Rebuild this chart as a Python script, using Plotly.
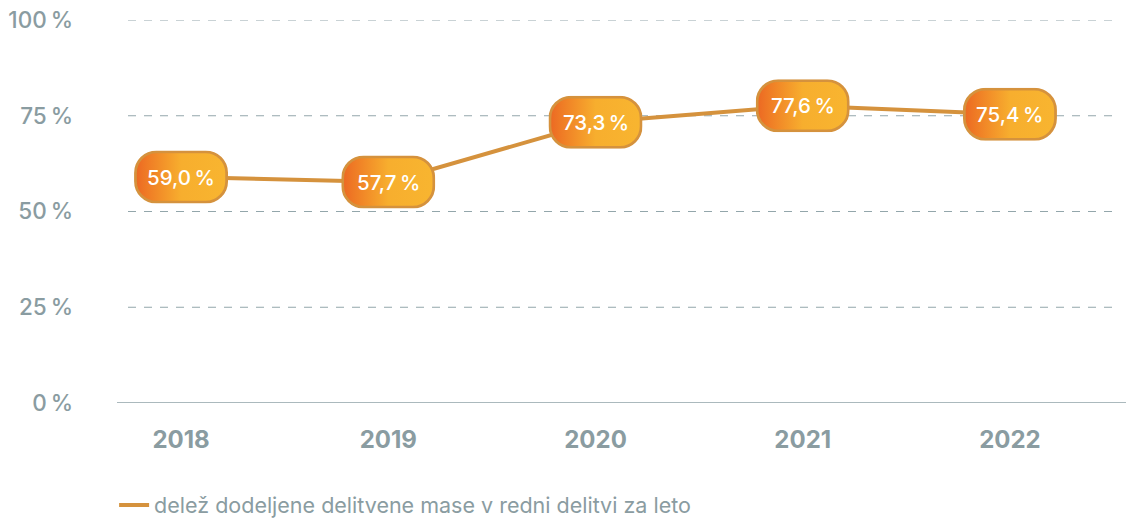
import base64
import plotly.graph_objects as go

years = ["2018", "2019", "2020", "2021", "2022"]
share = [59.0, 57.7, 73.3, 77.6, 75.4]
labels = ["59,0\u2009%", "57,7\u2009%", "73,3\u2009%", "77,6\u2009%", "75,4\u2009%"]
y_ticks = [0, 25, 50, 75, 100]
y_ticktext = ["0\u2009%", "25\u2009%", "50\u2009%", "75\u2009%", "100\u2009%"]
legend_name = "delež dodeljene delitvene mase v redni delitvi za leto"

W, H = 1134, 518
OFF = 8  # page body margin of the rendered html
L, R, T, B = 128 - OFF, 14 + OFF, 20 - OFF, 115 + OFF
x_range = [-0.256, 4.531]
y_range = [0, 100]
plot_w = W - L - R
plot_h = H - T - B
px_per_x = plot_w / (x_range[1] - x_range[0])
px_per_y = plot_h / (y_range[1] - y_range[0])

LINE = "#D5923D"
GRAY = "#8A9CA1"
FONT = "Inter"

box_w, box_h = 94, 53
svg = f'''<svg xmlns="http://www.w3.org/2000/svg" width="{box_w}" height="{box_h}" viewBox="0 0 {box_w} {box_h}">
<defs><linearGradient id="g" x1="0" y1="0" x2="1" y2="0">
<stop offset="0" stop-color="#EC6823"/><stop offset="0.12" stop-color="#EF7A25"/>
<stop offset="0.5" stop-color="#F7AE2E"/><stop offset="1" stop-color="#F8B530"/></linearGradient></defs>
<rect x="1.4" y="1.4" width="{box_w-2.8}" height="{box_h-2.8}" rx="21" ry="21" fill="url(#g)" stroke="{LINE}" stroke-width="2.8"/>
</svg>'''
src = "data:image/svg+xml;base64," + base64.b64encode(svg.encode()).decode()

xs = list(range(len(years)))

fig = go.Figure()
fig.add_trace(go.Scatter(
    x=xs, y=share, mode="lines", name=legend_name,
    line=dict(color=LINE, width=4), showlegend=True, hoverinfo="skip",
))

images = []
annotations = []
for xi, v, lab in zip(xs, share, labels):
    images.append(dict(
        source=src, xref="x", yref="y", x=xi, y=v,
        sizex=box_w / px_per_x, sizey=box_h / px_per_y,
        xanchor="center", yanchor="middle", sizing="stretch", layer="above",
    ))
    annotations.append(dict(
        x=xi, y=v, xref="x", yref="y", text=lab, showarrow=False,
        font=dict(family=FONT, size=20.5, color="white", weight=500),
    ))

shapes = [dict(
    type="line", xref="paper", yref="y", x0=-11 / plot_w, x1=1 + R / plot_w,
    y0=0, y1=0, line=dict(color="#8FA2A7", width=1.5), layer="below",
)]
for t in y_ticks[1:]:
    shapes.append(dict(
        type="line", xref="paper", yref="y", x0=0, x1=1, y0=t, y1=t,
        line=dict(color="#93A6AB", width=1, dash="8px,8px"), layer="below",
    ))

fig.update_layout(
    width=W, height=H,
    margin=dict(l=L, r=R, t=T, b=B, autoexpand=False),
    paper_bgcolor="white", plot_bgcolor="white",
    images=images, annotations=annotations, shapes=shapes,
    showlegend=True,
    legend=dict(
        orientation="h", x=-0.014, xanchor="left",
        yref="container", y=1 - (505 - OFF) / H, yanchor="middle",
        font=dict(family=FONT, size=21.5, color=GRAY, weight=400),
        bgcolor="rgba(0,0,0,0)",
    ),
    xaxis=dict(
        range=x_range, tickmode="array", tickvals=xs, ticktext=years,
        showgrid=False, zeroline=False, showline=False, ticks="",
        tickfont=dict(family=FONT, size=24, color=GRAY, weight=700),
        ticklabelstandoff=20, fixedrange=True, automargin=False,
        ticklabeloverflow="allow",
    ),
    yaxis=dict(
        range=y_range, tickmode="array", tickvals=y_ticks, ticktext=y_ticktext,
        showgrid=False, zeroline=False, showline=False, ticks="",
        tickfont=dict(family=FONT, size=22.5, color=GRAY, weight=500),
        ticklabelstandoff=54, fixedrange=True, automargin=False,
        ticklabeloverflow="allow",
    ),
)

fig.write_html("out.html")
